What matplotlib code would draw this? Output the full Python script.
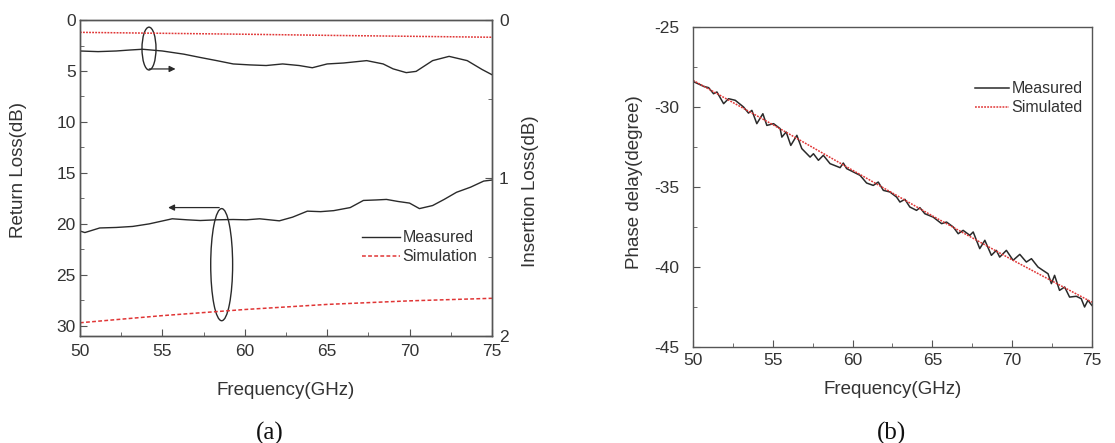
import numpy as np
import matplotlib
matplotlib.use('Agg')
import matplotlib.pyplot as plt
from matplotlib.patches import Ellipse
from matplotlib.ticker import MultipleLocator

plt.rcParams['font.family'] = ['Liberation Sans', 'DejaVu Sans']
plt.rcParams['axes.unicode_minus'] = False

# ---- (a) return loss, left axis (dB)
rl_meas_f = [50.0, 50.3, 51.2, 52.2, 53.2, 54.2, 55.6, 56.5, 57.3, 58.3, 59.3, 60.1, 60.9,
             62.1, 62.9, 63.8, 64.6, 65.4, 66.4, 67.2, 68.0, 68.6, 69.3, 70.0, 70.6,
             71.4, 72.1, 72.85, 73.7, 74.5, 75.0]
rl_meas = [20.7, 20.85, 20.4, 20.35, 20.25, 20.0, 19.5, 19.6, 19.67, 19.6, 19.57, 19.6, 19.5,
           19.7, 19.34, 18.75, 18.8, 18.7, 18.4, 17.7, 17.65, 17.6, 17.8, 17.96, 18.5,
           18.2, 17.6, 16.9, 16.4, 15.8, 15.7]
rl_sim_f = [50, 55, 60, 65, 70, 75]
rl_sim = [29.7, 29.0, 28.4, 27.9, 27.55, 27.3]

# ---- (a) insertion loss, right axis (dB)
il_meas_f = [50.0, 51.1, 52.2, 53.0, 53.8, 55.0, 56.3, 57.3, 58.3, 59.3, 60.3, 61.3, 62.3,
             63.3, 64.1, 65.0, 66.0, 67.4, 68.4, 69.0, 69.8, 70.4, 71.4, 72.4, 73.5, 74.4, 75.0]
il_meas = [0.196, 0.2, 0.196, 0.19, 0.185, 0.196, 0.216, 0.237, 0.257, 0.278, 0.284, 0.288, 0.278,
           0.288, 0.302, 0.278, 0.272, 0.257, 0.278, 0.309, 0.333, 0.325, 0.257, 0.230, 0.257,
           0.313, 0.346]
il_sim_f = [50, 55, 60, 65, 70, 75]
il_sim = [0.078, 0.084, 0.090, 0.097, 0.103, 0.109]

# ---- (b) phase delay (degree)
ph_meas_f = [50.0, 50.67, 50.98, 51.29, 51.50, 51.92, 52.23, 52.65, 52.96, 53.17, 53.48, 53.69,
             54.00, 54.38, 54.63, 55.05, 55.46, 55.57, 55.84, 56.13, 56.51, 56.82, 57.34, 57.55,
             57.86, 58.17, 58.59, 59.22, 59.42, 59.63, 60.05, 60.47, 60.88, 61.30, 61.61, 61.93,
             62.34, 62.76, 62.97, 63.28, 63.59, 64.01, 64.22, 64.53, 65.05, 65.58, 65.89, 66.31,
             66.62, 66.93, 67.35, 67.56, 67.97, 68.29, 68.70, 69.01, 69.22, 69.64, 70.06, 70.48,
             70.89, 71.21, 71.62, 71.93, 72.25, 72.46, 72.66, 72.97, 73.29, 73.60, 74.02, 74.33,
             74.54, 74.75, 75.0]
ph_meas = [-28.40, -28.71, -28.79, -29.17, -29.06, -29.79, -29.48, -29.58, -29.83, -30.00, -30.38, -30.21,
           -31.04, -30.42, -31.15, -31.04, -31.35, -31.88, -31.56, -32.40, -31.77, -32.60, -33.13, -32.92,
           -33.33, -33.02, -33.54, -33.79, -33.50, -33.85, -34.06, -34.27, -34.75, -34.90, -34.69, -35.21,
           -35.31, -35.63, -35.94, -35.77, -36.25, -36.46, -36.29, -36.67, -36.88, -37.29, -37.19, -37.50,
           -37.92, -37.71, -38.02, -37.81, -38.85, -38.33, -39.27, -38.96, -39.38, -38.96, -39.58, -39.21,
           -39.69, -39.48, -40.00, -40.21, -40.42, -41.04, -40.52, -41.46, -41.25, -41.88, -41.83, -41.98,
           -42.50, -42.08, -42.40]
ph_sim_f = [50, 55, 60, 65, 70, 75]
ph_sim = [-28.33, -31.1, -33.95, -36.8, -39.55, -42.2]

TXT = '#333333'
SPN = '#555555'
RED = '#e03535'


def style(ax):
    for s in ax.spines.values():
        s.set_color(SPN)
        s.set_linewidth(1.0)
    ax.tick_params(which='both', direction='in', colors=SPN, labelcolor=TXT, labelsize=12.5)
    ax.tick_params(which='major', length=5)
    ax.tick_params(which='minor', length=3)


fig = plt.figure(figsize=(11.15, 4.43), dpi=100)

# ===== panel (a)
ax1 = fig.add_axes([0.0717, 0.2415, 0.3695, 0.7133])
ax2 = ax1.twinx()
style(ax1)
style(ax2)
ax1.plot(rl_meas_f, rl_meas, color='#2a2a2a', lw=1.0, label='Measured')
ax1.plot(rl_sim_f, rl_sim, color=RED, lw=1.1, dashes=(2.5, 1.5), label='Simulation')
ax2.plot(il_meas_f, il_meas, color='#2a2a2a', lw=1.0)
ax2.plot(il_sim_f, il_sim, color=RED, lw=1.1, dashes=(1.2, 0.8))

ax1.set_xlim(50, 75)
ax1.set_ylim(31, 0)
ax2.set_ylim(2, 0)
ax1.xaxis.set_major_locator(MultipleLocator(5))
ax1.xaxis.set_minor_locator(MultipleLocator(2.5))
ax1.yaxis.set_major_locator(MultipleLocator(5))
ax1.yaxis.set_minor_locator(MultipleLocator(2.5))
ax2.yaxis.set_major_locator(MultipleLocator(1))
ax2.yaxis.set_minor_locator(MultipleLocator(0.5))
ax1.tick_params(axis='y', pad=3)
ax1.tick_params(axis='x', pad=6)
ax2.tick_params(axis='y', pad=5)
ax1.tick_params(top=False, right=False, which='both')

ax1.set_xlabel('Frequency(GHz)', fontsize=13.5, color=TXT)
ax1.xaxis.set_label_coords(0.5, -0.145)
ax1.set_ylabel('Return Loss(dB)', fontsize=13.5, color=TXT)
ax1.yaxis.set_label_coords(-0.129, 0.525)
ax2.set_ylabel('Insertion Loss(dB)', fontsize=13.5, color=TXT)
ax2.yaxis.set_label_coords(1.073, 0.459)

# ellipses + arrows showing which axis each pair uses
ax1.add_patch(Ellipse((54.19, 2.8), 0.85, 4.2, fill=False, ec='#2a2a2a', lw=1.0))
ax1.annotate('', xy=(55.8, 4.8), xytext=(54.2, 4.8),
             arrowprops=dict(arrowstyle='-|>', color='#2a2a2a', lw=0.9,
                             mutation_scale=9, shrinkA=0, shrinkB=0))
ax1.add_patch(Ellipse((58.6, 24.0), 1.33, 11.0, fill=False, ec='#2a2a2a', lw=1.0))
ax1.annotate('', xy=(55.35, 18.4), xytext=(58.45, 18.4),
             arrowprops=dict(arrowstyle='-|>', color='#2a2a2a', lw=0.9,
                             mutation_scale=9, shrinkA=0, shrinkB=0))

leg = ax1.legend(loc='upper left', bbox_to_anchor=(0.684, 0.335), frameon=False,
                 fontsize=11.5, handlelength=2.4, handletextpad=0.15,
                 labelspacing=0.25, borderpad=0, borderaxespad=0)
for t in leg.get_texts():
    t.set_color(TXT)

# ===== panel (b)
ax3 = fig.add_axes([0.6215, 0.2167, 0.3578, 0.7223])
style(ax3)
ax3.plot(ph_meas_f, ph_meas, color='#2a2a2a', lw=1.1, label='Measured')
ax3.plot(ph_sim_f, ph_sim, color=RED, lw=1.1, dashes=(1.2, 0.8), label='Simulated')
ax3.set_xlim(50, 75)
ax3.set_ylim(-45, -25)
ax3.xaxis.set_major_locator(MultipleLocator(5))
ax3.xaxis.set_minor_locator(MultipleLocator(2.5))
ax3.yaxis.set_major_locator(MultipleLocator(5))
ax3.yaxis.set_minor_locator(MultipleLocator(2.5))
ax3.tick_params(axis='y', pad=10)
ax3.tick_params(axis='x', pad=4)
ax3.set_xlabel('Frequency(GHz)', fontsize=13.5, color=TXT)
ax3.xaxis.set_label_coords(0.5, -0.105)
ax3.set_ylabel('Phase delay(degree)', fontsize=13.5, color=TXT)
ax3.yaxis.set_label_coords(-0.125, 0.516)

leg2 = ax3.legend(loc='upper left', bbox_to_anchor=(0.707, 0.83), frameon=False,
                  fontsize=11.5, handlelength=2.1, handletextpad=0.2,
                  labelspacing=0.25, borderpad=0, borderaxespad=0)
for t in leg2.get_texts():
    t.set_color(TXT)

fig.text(0.242, 0.0226, '(a)', ha='center', va='center', fontsize=18,
         family=['Liberation Serif', 'DejaVu Serif'], color='#111111')
fig.text(0.800, 0.0226, '(b)', ha='center', va='center', fontsize=18,
         family=['Liberation Serif', 'DejaVu Serif'], color='#111111')

fig.savefig('out.png', dpi=100)
